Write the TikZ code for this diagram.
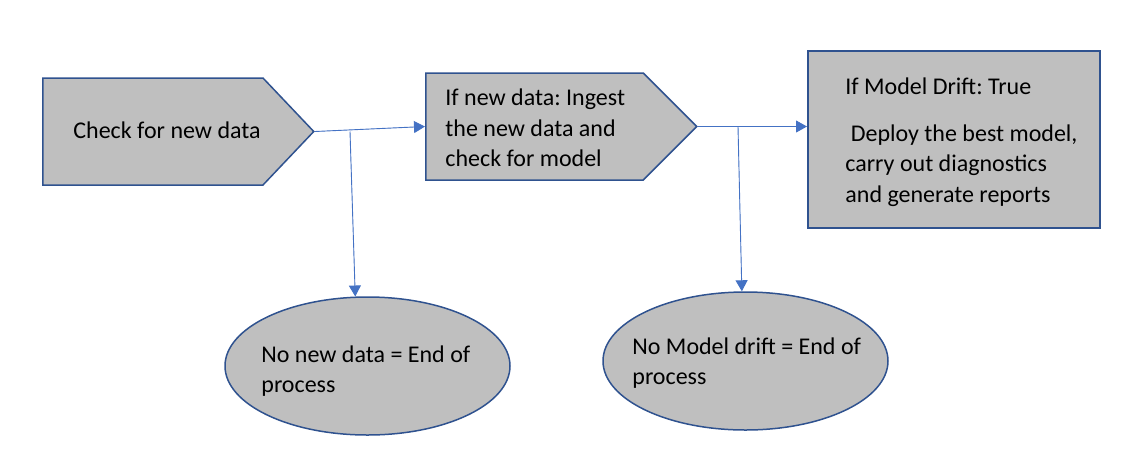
\documentclass[tikz,border=0pt]{standalone}
\usepackage{fontspec}
\setmainfont{Carlito}
\usepackage{xcolor}
\usetikzlibrary{shapes.symbols, shapes.geometric, arrows.meta}
\definecolor{boxfill}{HTML}{BFBFBF}
\definecolor{boxline}{HTML}{2F528F}
\definecolor{arrline}{HTML}{4472C4}
\frenchspacing

\begin{document}
\begin{tikzpicture}[
    x=0.5pt, y=-0.5pt,
    base/.style={draw=boxline, fill=boxfill, line width=0.75pt, inner sep=0pt},
    stage/.style={base, signal, signal to=east, minimum width=135.5pt, minimum height=53.5pt, anchor=west},
    result/.style={base, minimum width=146pt, minimum height=88.5pt, anchor=north west},
    stop/.style={base, ellipse, minimum width=142.5pt, minimum height=69pt},
    txt/.style={inner sep=0pt, align=left, anchor=west, font=\fontsize{12}{15.2}\selectfont},
    arr/.style={-{Triangle[length=5.5pt, width=6pt]}, draw=arrline, fill=arrline, line width=0.45pt},
]
\useasboundingbox (0,0) rectangle (1137,462);

% Stages
\node[stage, signal pointer angle=93] (chk) at (42,131.5) {};
\node[stage, signal pointer angle=90] (ingest) at (425,126.5) {};
\node[result] (deploy) at (807,50) {};

% End of process
\node[stop] (nonew) at (367.5,366) {};
\node[stop] (nodrift) at (745.5,361) {};

% Texts
\node[txt] (chktxt) at (73,130) {Check for new data};
\node[txt] (ingesttxt) at (445,128) {If new data: Ingest\\the new data and\\check for model};
\node[txt] (deploytxt) at (845,142) {If Model Drift: True\\[8.5pt] \ Deploy the best model,\\carry out diagnostics\\and generate reports};
\node[txt] (nonewtxt) at (261,371) {No new data = End of\\process};
\node[txt] (nodrifttxt) at (632,363) {No Model drift = End of\\process};

% Arrows
\coordinate (split1) at (350,131.5);
\coordinate (split2) at (738,126.5);
\draw[arr] (chk.east) -- (ingest.west);
\draw[arr] (ingest.east) -- (ingest.east -| deploy.west);
\draw[arr] (split1) -- (nonew.100);
\draw[arr] (split2) -- (nodrift.93);
\end{tikzpicture}
\end{document}
